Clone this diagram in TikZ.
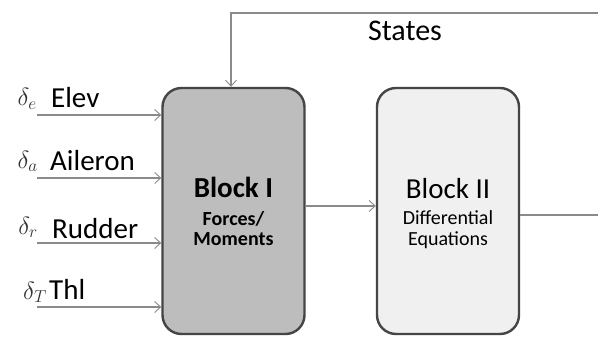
\documentclass[tikz,border=0pt]{standalone}
\usepackage{fontspec}
\setmainfont{Carlito}
\usetikzlibrary{arrows.meta}
\definecolor{lineg}{HTML}{8A8A8A}
\definecolor{bordg}{HTML}{454545}
\definecolor{fillA}{HTML}{BDBDBD}
\definecolor{fillB}{HTML}{F0F0F0}
\begin{document}
\begin{tikzpicture}[x=1pt,y=-1pt,
  blockbox/.style={draw=bordg,line width=2.4pt,rounded corners=19pt,minimum width=142pt,minimum height=246pt,inner sep=0pt},
  conn/.style={draw=lineg,line width=1.1pt,-{Straight Barb[length=6pt,width=11pt,line width=0.9pt]}},
  plainconn/.style={draw=lineg,line width=1.1pt},
  lbl/.style={anchor=base west,inner sep=0pt,font=\fontsize{29}{31}\selectfont},
  dlt/.style={anchor=base east,inner sep=0pt,font=\fontsize{24}{26}\selectfont,text=black!80},
  btitle/.style={anchor=base,inner sep=0pt,font=\fontsize{29}{31}\selectfont},
  bsub/.style={anchor=base,inner sep=0pt,font=\fontsize{20}{22}\selectfont}]
\useasboundingbox (0,0) rectangle (598,337);
\fill[white] (0,0) rectangle (598,337);

\node[blockbox,fill=fillA] (b1) at (233.5,211) {};
\node[blockbox,fill=fillB] (b2) at (448,211) {};
\node[btitle,font=\fontsize{29}{31}\selectfont\bfseries] (b1t) at (233.5,197) {Block I};
\node[bsub,font=\fontsize{20}{22}\selectfont\bfseries] (b1s1) at (233.5,225) {Forces/};
\node[bsub,font=\fontsize{20}{22}\selectfont\bfseries] (b1s2) at (233.5,245.5) {Moments};
\node[btitle] (b2t) at (448,198) {Block II};
\node[bsub] (b2s1) at (448,224.5) {Differential};
\node[bsub] (b2s2) at (448,245) {Equations};

% inputs
\coordinate (i1) at (37,115);
\coordinate (i2) at (37,178);
\coordinate (i3) at (37,243);
\coordinate (i4) at (37,307);
\draw[conn] (i1) -- (i1 -| b1.west);
\draw[conn] (i2) -- (i2 -| b1.west);
\draw[conn] (i3) -- (i3 -| b1.west);
\draw[conn] (i4) -- (i4 -| b1.west);

\node[dlt] (d1) at (37,106) {$\delta_e$};
\node[dlt] (d2) at (38,168) {$\delta_a$};
\node[dlt] (d3) at (38,234) {$\delta_r$};
\node[dlt] (d4) at (47,299) {$\delta_T$};
\node[lbl] (t1) at (51,107) {Elev};
\node[lbl] (t2) at (50,171) {Aileron};
\node[lbl] (t3) at (52,238) {Rudder};
\node[lbl] (t4) at (49,299) {Thl};

% block I -> block II
\draw[conn] (b1.east |- 0,206) -- (b2.west |- 0,206);
% output
\coordinate (outR) at (598,215);
\draw[plainconn] (b2.east |- outR) -- (outR);
% feedback
\coordinate (fbR) at (598,13);
\coordinate (fbL) at (231,13);
\draw[conn] (fbR) -- (fbL) -- (fbL |- b1.north);
\node[inner sep=0pt,font=\fontsize{30}{32}\selectfont] (st) at (405,31) {States};
\end{tikzpicture}
\end{document}
